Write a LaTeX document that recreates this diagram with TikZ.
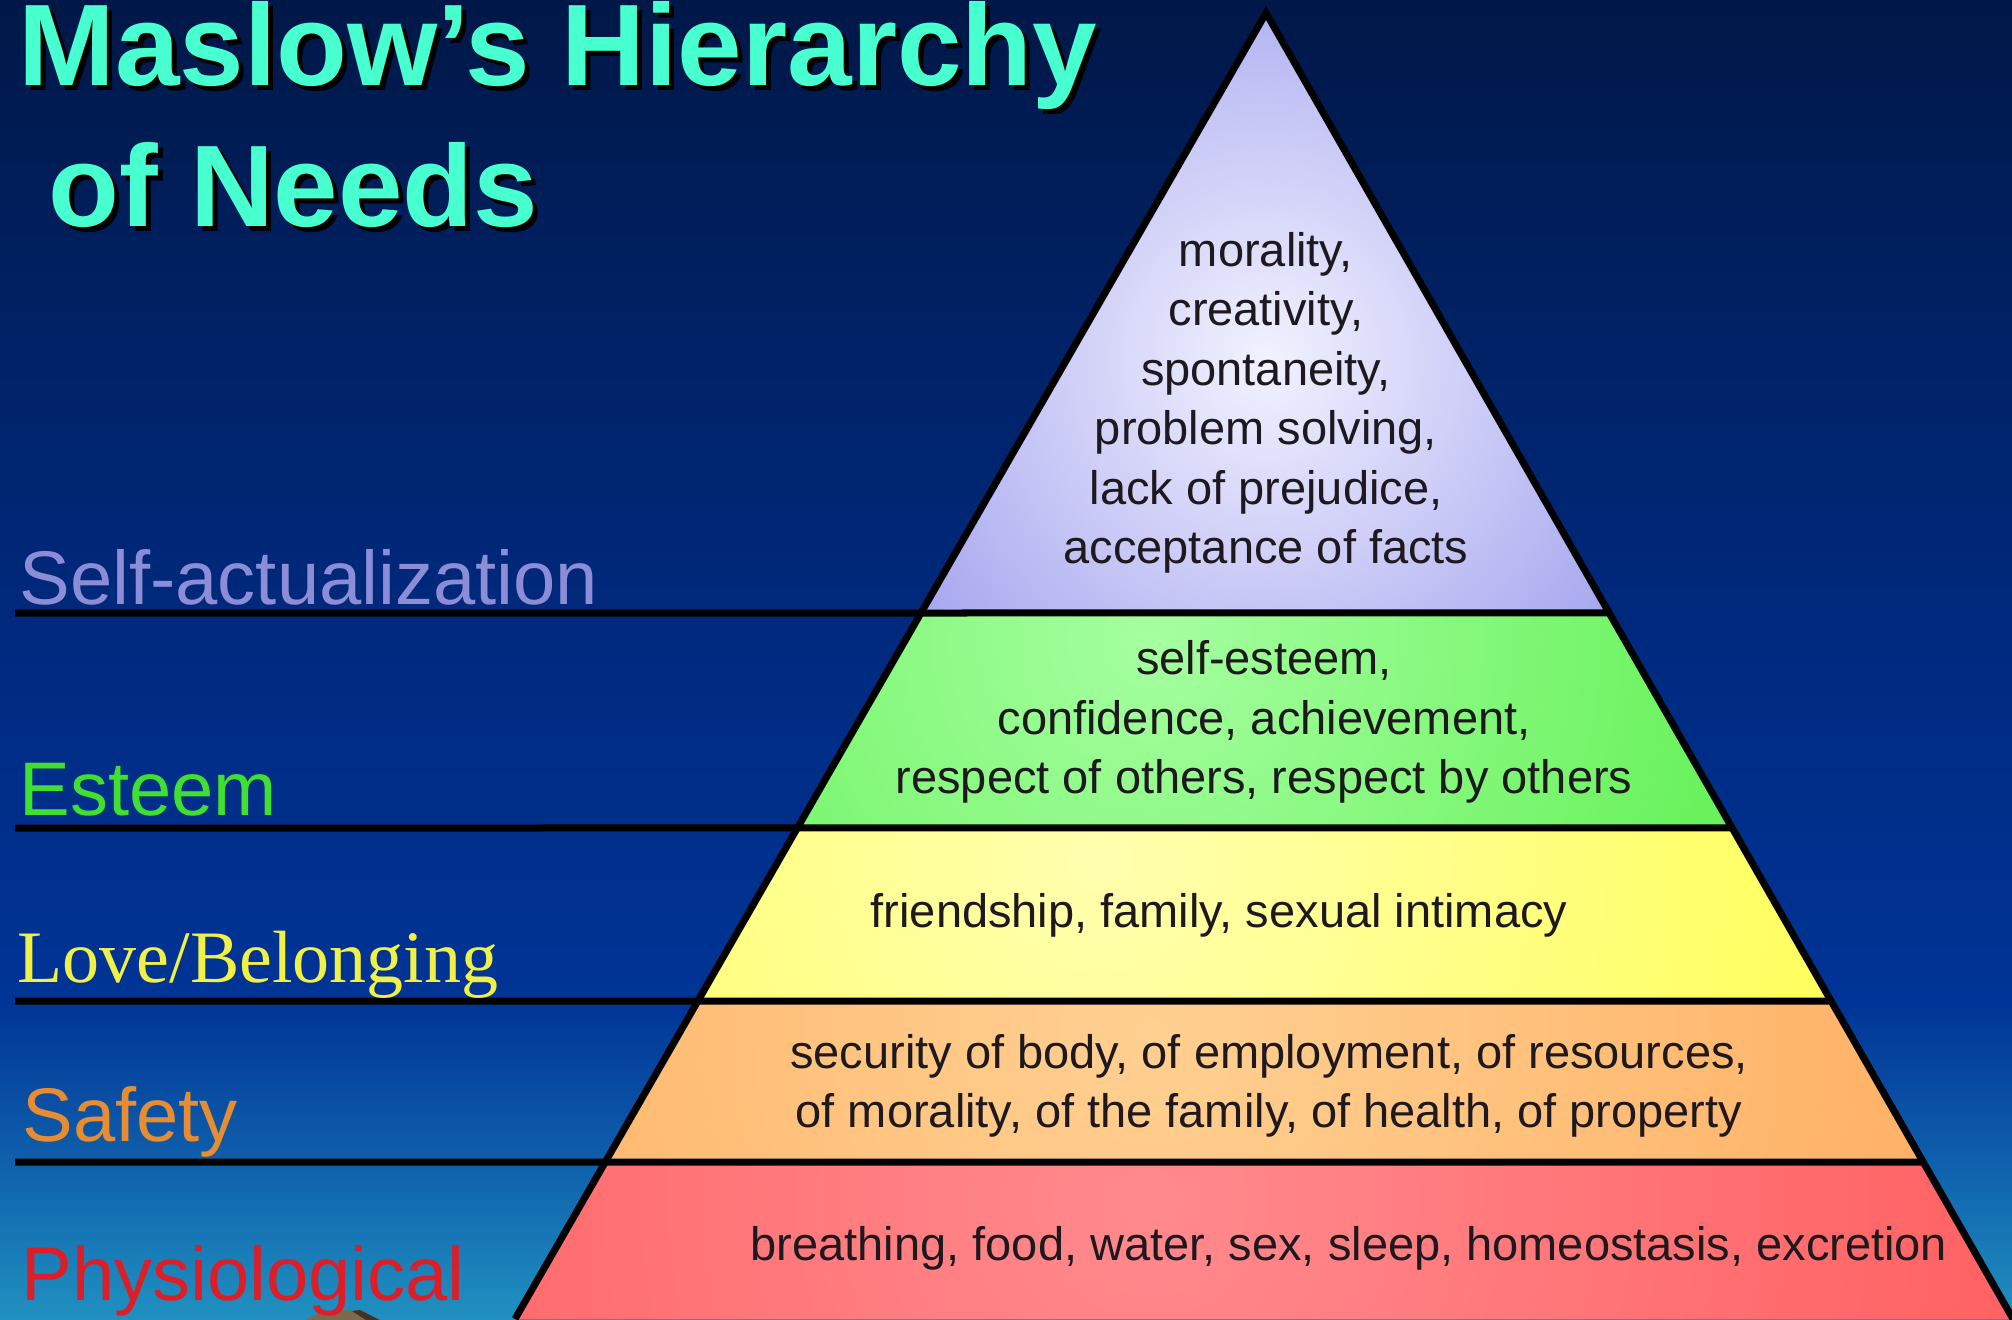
\documentclass[tikz,border=0pt]{standalone}
\usepackage{fontspec}
\setmainfont{Liberation Sans}
\newfontfamily\lbserif{Liberation Serif}
\usetikzlibrary{calc}
\definecolor{bgA}{RGB}{0,24,72}
\definecolor{bgB}{RGB}{0,42,128}
\definecolor{bgC}{RGB}{0,52,150}
\definecolor{bgD}{RGB}{15,95,172}
\definecolor{bgE}{RGB}{32,145,192}
\definecolor{titlecol}{RGB}{72,255,208}
\definecolor{selfcol}{RGB}{140,140,215}
\definecolor{esteemcol}{RGB}{64,224,48}
\definecolor{lovecol}{RGB}{240,240,70}
\definecolor{safetycol}{RGB}{230,140,50}
\definecolor{physcol}{RGB}{220,30,40}
\definecolor{ink}{RGB}{30,25,30}
\definecolor{vioIn}{RGB}{242,242,255}
\definecolor{vioOut}{RGB}{132,132,232}
\definecolor{grnIn}{RGB}{165,255,160}
\definecolor{grnOut}{RGB}{72,235,55}
\definecolor{yelIn}{RGB}{255,255,175}
\definecolor{yelOut}{RGB}{255,255,65}
\definecolor{orgIn}{RGB}{255,208,145}
\definecolor{orgOut}{RGB}{255,165,85}
\definecolor{redIn}{RGB}{255,138,142}
\definecolor{redOut}{RGB}{255,82,82}
\definecolor{brownA}{RGB}{125,105,75}
\definecolor{brownB}{RGB}{70,50,30}
\begin{document}
\begin{tikzpicture}[x=0.5pt,y=-0.5pt,
  titletext/.style={anchor=base west,inner sep=0pt,font=\fontsize{58}{69}\selectfont\bfseries},
  levellabel/.style={anchor=base west,inner sep=0pt,font=\fontsize{38}{46}\selectfont},
  pyrtext/.style={inner sep=0pt,text=ink,align=center,font=\fontsize{23.5}{29.75}\selectfont},
  sepline/.style={line width=3.5pt,black},
  edgeline/.style={line width=3.5pt,black,line join=miter}]
\useasboundingbox (0,0) rectangle (2012,1319);
% background
\shade[top color=bgA,bottom color=bgB] (0,0) rectangle (2012,651);
\shade[top color=bgB,bottom color=bgC] (0,650) rectangle (2012,1001);
\shade[top color=bgC,bottom color=bgE,middle color=bgD] (0,1000) rectangle (2012,1319);
% pyramid geometry
\coordinate (A) at (1266,13);
\coordinate (L) at (515,1319);
\coordinate (R) at (2013,1319);
\coordinate (l1) at ($(A)!0.4594!(L)$);
\coordinate (r1) at ($(A)!0.4594!(R)$);
\coordinate (l2) at ($(A)!0.6240!(L)$);
\coordinate (r2) at ($(A)!0.6240!(R)$);
\coordinate (l3) at ($(A)!0.7565!(L)$);
\coordinate (r3) at ($(A)!0.7565!(R)$);
\coordinate (l4) at ($(A)!0.8798!(L)$);
\coordinate (r4) at ($(A)!0.8798!(R)$);
% bands
\begin{scope}
  \clip (A) -- (l1) -- (r1) -- cycle;
  \shade[inner color=vioIn,outer color=vioOut] (1266,360) circle (620);
\end{scope}
\begin{scope}
  \clip (l1) -- (r1) -- (r2) -- (l2) -- cycle;
  \shade[inner color=grnIn,outer color=grnOut] (1150,640) circle (900);
\end{scope}
\begin{scope}
  \clip (l2) -- (r2) -- (r3) -- (l3) -- cycle;
  \shade[inner color=yelIn,outer color=yelOut] (1100,860) circle (1000);
\end{scope}
\begin{scope}
  \clip (l3) -- (r3) -- (r4) -- (l4) -- cycle;
  \shade[inner color=orgIn,outer color=orgOut] (1150,1030) circle (1100);
\end{scope}
\begin{scope}
  \clip (l4) -- (r4) -- (R) -- (L) -- cycle;
  \shade[inner color=redIn,outer color=redOut] (1150,1200) circle (1200);
\end{scope}
% separators
\coordinate (s1) at (15,613);
\coordinate (s2) at (15,828);
\coordinate (s3) at (15,1001);
\coordinate (s4) at (15,1162);
\draw[sepline] (s1) -- (r1);
\draw[sepline] (s2) -- (r2);
\draw[sepline] (s3) -- (r3);
\draw[sepline] (s4) -- (r4);
\draw[edgeline] (L) -- (A) -- (R);
% small brown shape at the bottom edge
\fill[brownA] (305,1320) .. controls (318,1311) and (340,1309) .. (356,1311) -- (372,1320) -- cycle;
\fill[brownB] (352,1311) -- (360,1310) -- (380,1320) -- (366,1320) -- cycle;
% title
\node[titletext,text=black] (t1s) at (23,90) {Maslow’s Hierarchy};
\node[titletext,text=black] (t2s) at (53,231) {of Needs};
\node[titletext,text=titlecol] (t1) at (18,85) {Maslow’s Hierarchy};
\node[titletext,text=titlecol] (t2) at (48,226) {of Needs};
% level labels
\node[levellabel,text=selfcol] (lab1) at (19,604) {Self-actualization};
\node[levellabel,text=esteemcol] (lab2) at (19,815) {Esteem};
\node[levellabel,text=lovecol,font=\fontsize{37}{44}\selectfont\lbserif] (lab3) at (17,982) {Love/Belonging};
\node[levellabel,text=safetycol] (lab4) at (22,1141) {Safety};
\node[levellabel,text=physcol] (lab5) at (21,1300) {Physiological};
% pyramid texts
\node[pyrtext] (p1) at (1266,403) {morality,\\creativity,\\spontaneity,\\problem solving,\\lack of prejudice,\\acceptance of facts};
\node[pyrtext] (p2) at (1264,722) {self-esteem,\\confidence, achievement,\\respect of others, respect by others};
\node[pyrtext,anchor=base] (p3) at (1219,927) {friendship, family, sexual intimacy};
\node[pyrtext] (p4) at (1269,1086) {security of body, of employment, of resources,\\of morality, of the family, of health, of property};
\node[pyrtext,anchor=base] (p5) at (1349,1260) {breathing, food, water, sex, sleep, homeostasis, excretion};
\end{tikzpicture}
\end{document}
